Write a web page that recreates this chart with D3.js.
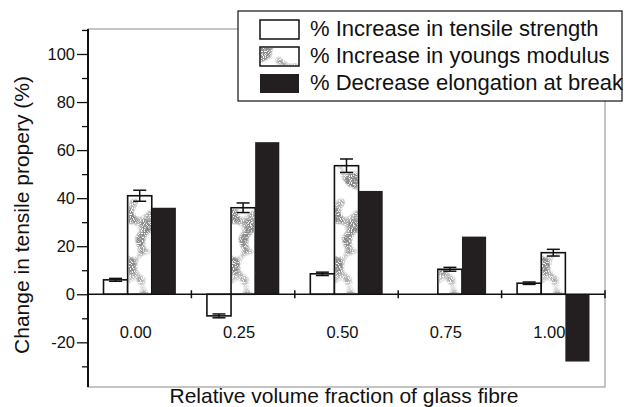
<!DOCTYPE html>
<html>
<head>
<meta charset="utf-8">
<script src="https://cdn.jsdelivr.net/npm/d3@7"></script>
<style>
	html, body { margin: 0; padding: 0; background: #fff; }
	svg { display: block; font-family: "Liberation Sans", Arial, sans-serif; }
</style>
</head>
<body>
<div id="vis"></div>
<script>

var categories = ["0.00", "0.25", "0.50", "0.75", "1.00"];
var seriesNames = [
	"% Increase in tensile strength",
	"% Increase in youngs modulus",
	"% Decrease elongation at break"
];
var tensile = [6, -9, 8.5, 0, 4.6];
var tensileErr = [0.6, 0.8, 0.7, 0, 0.5];
var modulus = [41, 36, 53.5, 10.4, 17.3];
var modulusErr = [2.3, 2, 2.8, 0.8, 1.4];
var elongation = [36, 63.3, 43, 24, -28];
var yTicks = [-20, 0, 20, 40, 60, 80, 100];
var yMinorTicks = [-30, -10, 10, 30, 50, 70, 90, 110];

var w = 639, h = 407;
var plot = {left: 88, right: 605, top: 29, bottom: 387};

var svg = d3.select("#vis").append("svg")
.attr("width", w)
.attr("height", h);

// grey stipple for the modulus bars: round blobs of fine speckle
var defs = svg.append("defs");
var filt = defs.append("filter")
.attr("id", "stipple")
.attr("x", 0).attr("y", 0).attr("width", 1).attr("height", 1)
.attr("color-interpolation-filters", "sRGB");
filt.append("feTurbulence")
.attr("type", "fractalNoise").attr("baseFrequency", 0.06).attr("numOctaves", 1).attr("seed", 4)
.attr("result", "n1");
filt.append("feColorMatrix")
.attr("in", "n1").attr("type", "matrix")
.attr("values", "0 0 0 0 0  0 0 0 0 0  0 0 0 0 0  10 0 0 0 -4.8")
.attr("result", "blob");
filt.append("feTurbulence")
.attr("type", "fractalNoise").attr("baseFrequency", 0.9).attr("numOctaves", 1).attr("seed", 9)
.attr("result", "n2");
filt.append("feColorMatrix")
.attr("in", "n2").attr("type", "matrix")
.attr("values", "0 0 0 0 0  0 0 0 0 0  0 0 0 0 0  6 0 0 0 -2.0")
.attr("result", "speck");
filt.append("feComposite")
.attr("in", "speck").attr("in2", "blob").attr("operator", "in")
.attr("result", "dots");
filt.append("feFlood").attr("flood-color", "#8a8a8a").attr("result", "grey");
filt.append("feComposite")
.attr("in", "grey").attr("in2", "dots").attr("operator", "in");

var y = d3.scaleLinear()
.domain([-38.6, 110.4])
.range([plot.bottom, plot.top]);

var x0 = d3.scaleBand()
.domain(categories)
.range([plot.left, plot.right])
.padding(0);

var x1 = d3.scaleBand()
.domain([0, 1, 2])
.range([x0.step() * 0.15, x0.step() * 0.85])
.padding(0);

// thin frame, the legend will sit over the top right of it
svg.append("rect")
.attr("x", plot.left)
.attr("y", plot.top)
.attr("width", plot.right - plot.left)
.attr("height", plot.bottom - plot.top)
.attr("fill", "none")
.attr("stroke", "#8a8a8a")
.attr("stroke-width", 1);

var rows = categories.map(function (c, i) {
	return {cat: c, values: [
		{s: 0, v: tensile[i], e: tensileErr[i]},
		{s: 1, v: modulus[i], e: modulusErr[i]},
		{s: 2, v: elongation[i], e: 0}
	]};
});

var groups = svg.selectAll(".cat-group")
.data(rows)
.enter()
.append("g")
.attr("class", "cat-group")
.attr("transform", function (d) {
	return "translate(" + x0(d.cat) + ",0)";
});

var bars = groups.selectAll(".bar")
.data(function (d) { return d.values.filter(function (a) { return a.v !== 0; }); })
.enter()
.append("g")
.attr("class", "bar");

bars.append("rect")
.attr("x", function (d) { return x1(d.s); })
.attr("y", function (d) { return y(Math.max(0, d.v)); })
.attr("width", x1.bandwidth())
.attr("height", function (d) { return Math.abs(y(d.v) - y(0)); })
.attr("fill", function (d) { return d.s == 2 ? "#231f20" : "#fff"; })
.attr("stroke", function (d) { return d.s == 2 ? "none" : "#111"; })
.attr("stroke-width", 1.6);

bars.filter(function (d) { return d.s == 1; })
.append("rect")
.attr("x", function (d) { return x1(d.s) + 1; })
.attr("y", function (d) { return y(d.v) + 1; })
.attr("width", x1.bandwidth() - 2)
.attr("height", function (d) { return y(0) - y(d.v) - 2; })
.attr("fill", "#000")
.attr("filter", "url(#stipple)");

// error bars with caps
var errs = bars.filter(function (d) { return d.e > 0; })
.append("g")
.attr("stroke", "#111")
.attr("stroke-width", 1.5);

var capW = 13;
errs.append("line")
.attr("x1", function (d) { return x1(d.s) + x1.bandwidth() / 2; })
.attr("x2", function (d) { return x1(d.s) + x1.bandwidth() / 2; })
.attr("y1", function (d) { return y(d.v - d.e); })
.attr("y2", function (d) { return y(d.v + d.e); });

errs.selectAll(".cap")
.data(function (d) { return [d.v - d.e, d.v + d.e].map(function (v) { return {s: d.s, v: v}; }); })
.enter()
.append("line")
.attr("class", "cap")
.attr("x1", function (d) { return x1(d.s) + x1.bandwidth() / 2 - capW / 2; })
.attr("x2", function (d) { return x1(d.s) + x1.bandwidth() / 2 + capW / 2; })
.attr("y1", function (d) { return y(d.v); })
.attr("y2", function (d) { return y(d.v); });

// zero line with ticks at the category boundaries
svg.append("line")
.attr("x1", plot.left)
.attr("x2", plot.right)
.attr("y1", y(0))
.attr("y2", y(0))
.attr("stroke", "#111")
.attr("stroke-width", 1.6);

svg.selectAll(".sep")
.data(categories)
.enter()
.append("line")
.attr("class", "sep")
.attr("x1", function (d) { return x0(d) + x0.step(); })
.attr("x2", function (d) { return x0(d) + x0.step(); })
.attr("y1", y(0) - 4)
.attr("y2", y(0) + 4)
.attr("stroke", "#111")
.attr("stroke-width", 1.5);

svg.selectAll(".cat-label")
.data(categories)
.enter()
.append("text")
.attr("class", "cat-label")
.attr("x", function (d) { return x0(d) + x0.bandwidth() / 2 - 4; })
.attr("y", 338)
.attr("text-anchor", "middle")
.attr("font-size", 16.5)
.attr("fill", "#111")
.text(function (d) { return d; });

// y axis
var yAxis = svg.append("g")
.attr("transform", "translate(" + plot.left + ",0)")
.call(d3.axisLeft(y).tickValues(yTicks).tickSize(11).tickPadding(2).tickFormat(function (d) { return String(d); }));

svg.append("g")
.attr("transform", "translate(" + plot.left + ",0)")
.call(d3.axisLeft(y).tickValues(yMinorTicks).tickSize(6).tickFormat(""))
.call(function (g) { g.select(".domain").remove(); });

svg.selectAll(".tick line").attr("stroke", "#111").attr("stroke-width", 1.3);
yAxis.select(".domain").attr("stroke", "#111").attr("stroke-width", 2).attr("d", "M0," + plot.top + "V" + plot.bottom);
yAxis.selectAll("text")
.attr("font-size", 16.5)
.attr("font-family", "Liberation Sans, Arial, sans-serif")
.attr("fill", "#111");

// titles
svg.append("text")
.attr("transform", "translate(29,215) rotate(-90)")
.attr("text-anchor", "middle")
.attr("font-size", 21)
.attr("fill", "#111")
.text("Change in tensile propery (%)");

svg.append("text")
.attr("x", 344)
.attr("y", 403)
.attr("text-anchor", "middle")
.attr("font-size", 21)
.attr("fill", "#111")
.text("Relative volume fraction of glass fibre");

// legend
var legend = svg.append("g")
.attr("transform", "translate(238,11)");

legend.append("rect")
.attr("width", 384)
.attr("height", 90)
.attr("fill", "#fff")
.attr("stroke", "#111")
.attr("stroke-width", 1.2);

var key = legend.selectAll(".key")
.data(seriesNames)
.enter()
.append("g")
.attr("class", "key")
.attr("transform", function (d, i) {
	return "translate(22," + (9 + i * 27) + ")";
});

key.append("rect")
.attr("width", 39)
.attr("height", 19)
.attr("fill", function (d, i) { return i == 2 ? "#231f20" : "#fff"; })
.attr("stroke", function (d, i) { return i == 2 ? "none" : "#111"; })
.attr("stroke-width", 1.5);

key.filter(function (d, i) { return i == 1; })
.append("rect")
.attr("x", 1).attr("y", 1)
.attr("width", 37).attr("height", 17)
.attr("fill", "#000")
.attr("filter", "url(#stipple)");

key.append("text")
.attr("x", 50)
.attr("y", 16)
.attr("font-size", 22)
.attr("fill", "#111")
.text(function (d) { return d; });

</script>
</body>
</html>
